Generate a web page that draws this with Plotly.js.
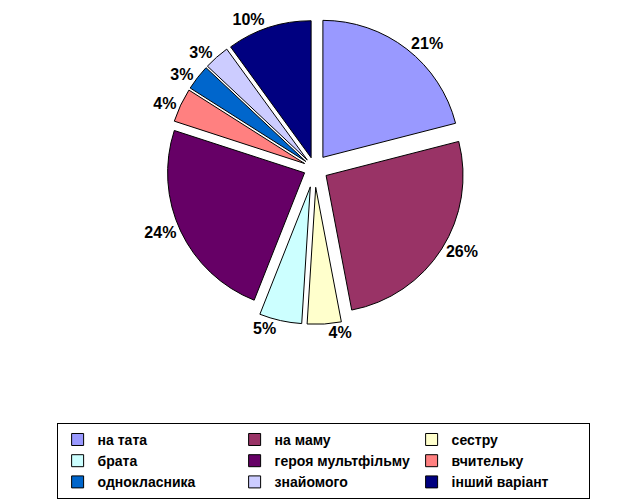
<!DOCTYPE html>
<html>
<head>
<meta charset="utf-8">
<script src="https://cdn.plot.ly/plotly-3.0.1.min.js"></script>
<style>html,body{margin:0;padding:0;background:#fff;}#chart{width:629px;height:500px;}</style>
</head>
<body>
<div id="chart"></div>
<script>
const labels = ["на тата", "на маму", "сестру", "брата", "героя мультфільму", "вчительку", "однокласника", "знайомого", "інший варіант"];
const values = [21, 26, 4, 5, 24, 4, 3, 3, 10];
const colors = ["#9999FF", "#993366", "#FFFFCC", "#CCFFFF", "#660066", "#FF8080", "#0066CC", "#CCCCFF", "#000080"];
const pulls = [0.1, 0.1, 0.14, 0.14, 0.08, 0.08, 0.08, 0.08, 0.08];

const trace = {
  type: "pie",
  labels: labels,
  values: values,
  sort: false,
  direction: "clockwise",
  rotation: 0,
  pull: pulls,
  marker: { colors: colors, line: { color: "#000000", width: 1 } },
  textinfo: "percent",
  textposition: "outside",
  outsidetextfont: { family: "Arial, 'Liberation Sans', sans-serif", size: 16, color: "#000", weight: 700 },
  hoverinfo: "label+percent",
  domain: { x: [0, 1], y: [0.36, 1] }
};

const layout = {
  width: 629,
  height: 500,
  margin: { l: 0, r: 0, t: 12, b: 0 },
  paper_bgcolor: "#ffffff",
  showlegend: true,
  legend: {
    orientation: "h",
    x: 0.09,
    xanchor: "left",
    y: 0.158,
    yanchor: "top",
    traceorder: "normal",
    entrywidth: 132,
    bordercolor: "#000000",
    borderwidth: 1,
    bgcolor: "#ffffff",
    font: { family: "Arial, 'Liberation Sans', sans-serif", size: 14, color: "#000", weight: 700 },
    itemwidth: 30
  }
};

Plotly.newPlot("chart", [trace], layout, { displayModeBar: false, staticPlot: true });
</script>
</body>
</html>
